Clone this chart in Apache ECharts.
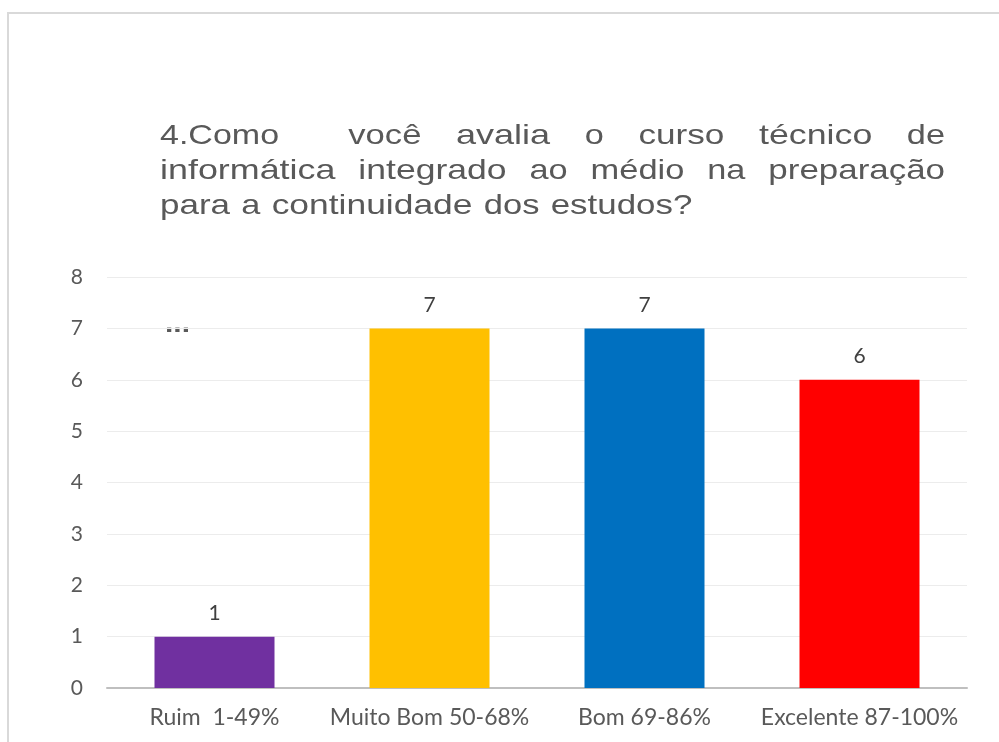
<!DOCTYPE html>
<html>
<head>
<meta charset="utf-8">
<style>
  html, body { margin: 0; padding: 0; background: #fff; }
  #chart { width: 999px; height: 742px; }
</style>
<script src="https://cdn.jsdelivr.net/npm/echarts@6/dist/echarts.min.js"></script>
</head>
<body>
<div id="chart"></div>
<script>
// dados do gráfico
var categories = ['Ruim  1-49%', 'Muito Bom 50-68%', 'Bom 69-86%', 'Excelente 87-100%'];
var values = [1, 7, 7, 6];
var barColors = ['#7030a0', '#ffc000', '#0070c0', '#ff0000'];
var titleLines = [
  '4.Como  você avalia o curso técnico de',
  'informática integrado ao médio na preparação',
  'para a continuidade dos estudos?'
];

var titleFont = '28px "Liberation Sans", Arial, sans-serif';
var letterSp = 3.5;   // espaçamento entre letras do título original
var titleLeft = 160, titleRight = 945, titleTop = 122, lineHeight = 35;
var labelFont = 'Lato, "Open Sans", sans-serif';

// mede as palavras para justificar o título (como no Word)
var ctx = document.createElement('canvas').getContext('2d');
ctx.font = titleFont;

function justifyLine(line, y, last) {
  var words = line.split(/ +/);
  var gaps = line.match(/ +/g) || [];
  var natural = words.map(function (w) { return ctx.measureText(w).width; });
  var slots = words.map(function (w, i) { return natural[i] + letterSp * w.length; });
  var total = slots.reduce(function (a, b) { return a + b; }, 0);
  var weights = gaps.map(function (g) { return g.length; });
  var wsum = weights.reduce(function (a, b) { return a + b; }, 0);
  var space = ctx.measureText(' ').width + letterSp;
  var unit = last ? space : (titleRight - titleLeft - total) / (wsum || 1);
  var x = titleLeft, out = [];
  words.forEach(function (w, i) {
    // o espaçamento entre letras é imitado esticando a palavra
    out.push({
      type: 'text',
      x: x,
      y: y,
      scaleX: slots[i] / natural[i],
      style: { text: w, font: titleFont, fill: '#595959' }
    });
    x += slots[i] + (i < weights.length ? weights[i] * unit : 0);
  });
  return out;
}

var graphics = [{
  type: 'rect',
  shape: { x: 8, y: 13, width: 1010, height: 740 },
  style: { fill: 'none', stroke: '#d9d9d9', lineWidth: 2 },
  silent: true
}, {
  type: 'text',
  x: 165,
  y: 309,
  style: { text: '...', font: 'bold 30px "Liberation Sans", Arial, sans-serif', fill: '#595959' }
}];

titleLines.forEach(function (l, i) {
  graphics = graphics.concat(justifyLine(l, titleTop + i * lineHeight, i === titleLines.length - 1));
});

var myChart = echarts.init(document.getElementById('chart'));

var option = {
  animation: false,
  backgroundColor: '#fff',
  graphic: graphics,
  grid: { left: 107, right: 32, top: 277, bottom: 54 },
  xAxis: {
    type: 'category',
    data: categories,
    axisLine: { lineStyle: { color: '#bfbfbf', width: 2 } },
    axisTick: { show: false },
    axisLabel: {
      interval: 0,
      color: '#595959',
      fontSize: 23,
      fontFamily: labelFont,
      margin: 18
    }
  },
  yAxis: {
    type: 'value',
    min: 0,
    max: 8,
    interval: 1,
    axisLine: { show: false },
    axisTick: { show: false },
    splitLine: { lineStyle: { color: '#ececec', width: 1 } },
    axisLabel: {
      color: '#595959',
      fontSize: 21,
      fontFamily: labelFont,
      margin: 24
    }
  },
  series: [{
    type: 'bar',
    barWidth: 120,
    data: values.map(function (v, i) {
      return { value: v, itemStyle: { color: barColors[i] } };
    }),
    label: {
      show: true,
      position: 'top',
      distance: 13,
      color: '#404040',
      fontSize: 21,
      fontFamily: labelFont
    }
  }]
};

myChart.setOption(option);
</script>
</body>
</html>
